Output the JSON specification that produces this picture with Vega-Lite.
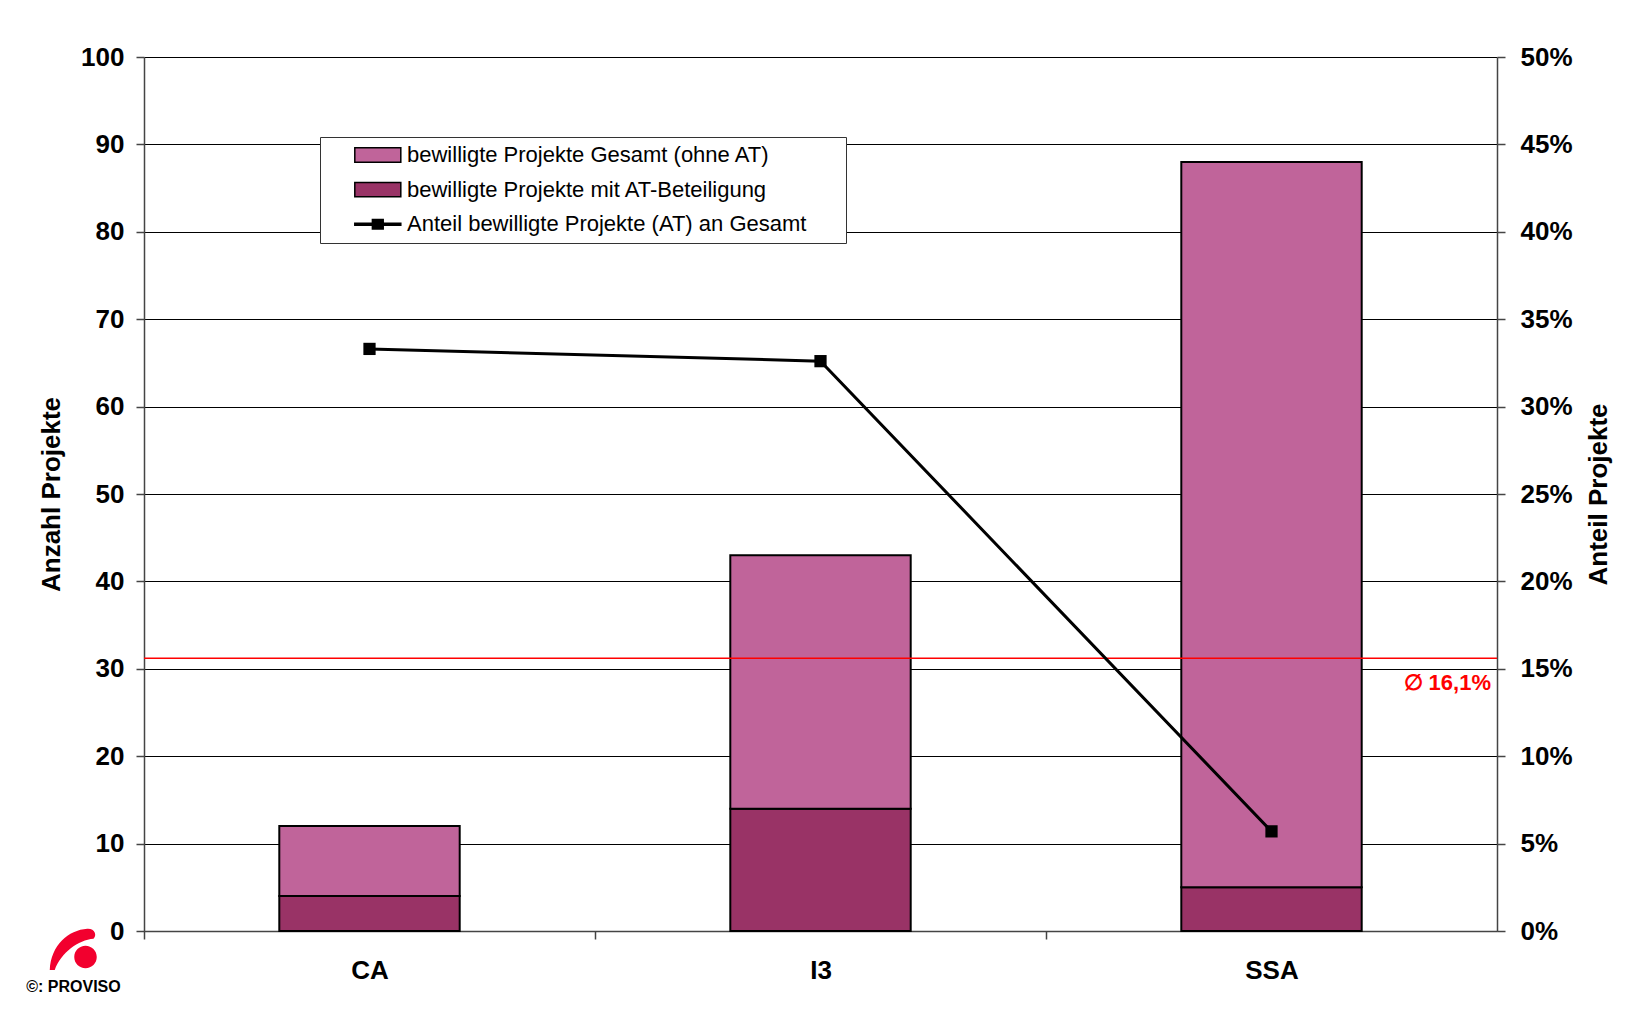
{
  "$schema": "https://vega.github.io/schema/vega-lite/v6.json",
  "width": 1353,
  "height": 874,
  "autosize": {"type": "none"},
  "padding": {"left": 144, "top": 57, "right": 148, "bottom": 87},
  "background": "white",
  "config": {
    "font": "Liberation Sans",
    "view": {"stroke": null},
    "axis": {
      "labelFont": "Liberation Sans",
      "labelFontSize": 26,
      "labelFontWeight": "bold",
      "labelColor": "black",
      "titleFont": "Liberation Sans",
      "titleFontSize": 26,
      "titleFontWeight": "bold",
      "titleColor": "black",
      "domainColor": "#444444",
      "domainWidth": 1.5,
      "tickColor": "#444444",
      "tickWidth": 1.5,
      "tickSize": 8
    },
    "legend": {
      "orient": "none",
      "legendX": 176,
      "legendY": 80,
      "padding": 7,
      "fillColor": "white",
      "strokeColor": "#333333",
      "symbolSize": 256,
      "symbolOpacity": 1,
      "symbolStrokeColor": "black",
      "symbolStrokeWidth": 1.5,
      "labelFont": "Liberation Sans",
      "labelFontSize": 22,
      "labelColor": "black",
      "labelOffset": 58,
      "labelLimit": 800,
      "rowPadding": 12.6
    }
  },
  "datasets": {
    "bars": [
      {"Programm": "CA", "series": "bewilligte Projekte mit AT-Beteiligung", "value": 4},
      {"Programm": "CA", "series": "bewilligte Projekte Gesamt (ohne AT)", "value": 8},
      {"Programm": "I3", "series": "bewilligte Projekte mit AT-Beteiligung", "value": 14},
      {"Programm": "I3", "series": "bewilligte Projekte Gesamt (ohne AT)", "value": 29},
      {"Programm": "SSA", "series": "bewilligte Projekte mit AT-Beteiligung", "value": 5},
      {"Programm": "SSA", "series": "bewilligte Projekte Gesamt (ohne AT)", "value": 83}
    ],
    "anteil": [
      {"Programm": "CA", "series": "Anteil bewilligte Projekte (AT) an Gesamt", "anteil": 0.333},
      {"Programm": "I3", "series": "Anteil bewilligte Projekte (AT) an Gesamt", "anteil": 0.326},
      {"Programm": "SSA", "series": "Anteil bewilligte Projekte (AT) an Gesamt", "anteil": 0.057}
    ],
    "avg": [{"avg": 0.156, "labelpos": 0.142, "label": "∅ 16,1%", "Programm": "SSA"}],
    "credit": [{"text": "©: PROVISO", "Programm": "CA", "ty": -6.4, "ly": -2.17}]
  },
  "encoding": {
    "x": {
      "field": "Programm",
      "type": "nominal",
      "sort": ["CA", "I3", "SSA"],
      "scale": {"paddingInner": 0.6, "paddingOuter": 0.3},
      "axis": {
        "title": null,
        "labelAngle": 0,
        "tickOffset": -225.5,
        "labelOffset": 225.5,
        "labelPadding": 18,
        "tickSize": 8
      }
    }
  },
  "layer": [
    {
      "layer": [
        {
          "data": {"name": "bars"},
          "mark": {"type": "bar", "stroke": "black", "strokeWidth": 2},
          "encoding": {
            "y": {
              "field": "value",
              "type": "quantitative",
              "stack": "zero",
              "scale": {"domain": [0, 100], "nice": false},
              "axis": {
                "title": "Anzahl Projekte",
                "values": [0, 10, 20, 30, 40, 50, 60, 70, 80, 90, 100],
                "grid": true,
                "gridColor": "black",
                "gridWidth": 1,
                "labelPadding": 12,
                "titlePadding": 16
              }
            },
            "color": {
              "field": "series",
              "type": "nominal",
              "scale": {
                "domain": ["bewilligte Projekte Gesamt (ohne AT)", "bewilligte Projekte mit AT-Beteiligung", "Anteil bewilligte Projekte (AT) an Gesamt"],
                "range": ["#c0649a", "#993366", "#000000"]
              },
              "legend": {"title": null, "labelExpr": "datum.label + '\u2800\u2800'", "encoding": {"symbols": {"stroke": {"value": "black"}, "strokeWidth": {"value": 1.5}}}}
            },
            "order": {"field": "series", "sort": "descending"}
          }
        },
        {
          "data": {"name": "credit"},
          "mark": {"type": "text", "fontSize": 16, "fontWeight": "bold", "color": "black", "align": "center", "baseline": "middle", "dx": -296},
          "encoding": {
            "y": {"field": "ty", "type": "quantitative", "scale": {"domain": [0, 100], "nice": false}},
            "text": {"field": "text"}
          }
        },
        {
          "data": {"name": "credit"},
          "mark": {
            "type": "point",
            "filled": true,
            "opacity": 1,
            "color": "#f2002e",
            "size": 2500,
            "xOffset": -296,
            "shape": "M-0.95,0.8 C-0.9,-0.2 -0.2,-0.8 0.55,-0.85 C0.85,-0.87 0.95,-0.6 0.8,-0.45 C0.2,-0.4 -0.5,0.1 -0.75,0.8 Z M0.93,0.28 A0.45,0.45 0 1,1 0.03,0.28 A0.45,0.45 0 1,1 0.93,0.28 Z"
          },
          "encoding": {
            "y": {"field": "ly", "type": "quantitative", "scale": {"domain": [0, 100], "nice": false}}
          }
        }
      ]
    },
    {
      "layer": [
        {
          "data": {"name": "avg"},
          "mark": {"type": "rule", "color": "#ff0000", "strokeWidth": 1.5},
          "encoding": {
            "x": null,
            "y": {
              "field": "avg",
              "type": "quantitative",
              "scale": {"domain": [0, 0.5], "nice": false},
              "axis": {
                "orient": "right",
                "title": "Anteil Projekte",
                "format": ".0%",
                "values": [0, 0.05, 0.1, 0.15, 0.2, 0.25, 0.3, 0.35, 0.4, 0.45, 0.5],
                "grid": false,
                "labelPadding": 15,
                "titleAngle": 270,
                "titleBaseline": "top",
                "titlePadding": 13
              }
            }
          }
        },
        {
          "data": {"name": "anteil"},
          "mark": {"type": "line", "color": "black", "strokeWidth": 3},
          "encoding": {
            "y": {"field": "anteil", "type": "quantitative", "scale": {"domain": [0, 0.5], "nice": false}}
          }
        },
        {
          "data": {"name": "anteil"},
          "mark": {"type": "point", "shape": "square", "filled": true, "color": "black", "opacity": 1, "size": 150},
          "encoding": {
            "y": {"field": "anteil", "type": "quantitative", "scale": {"domain": [0, 0.5], "nice": false}}
          }
        },
        {
          "data": {"name": "avg"},
          "mark": {"type": "text", "color": "#ff0000", "fontSize": 22, "fontWeight": "bold", "align": "right", "baseline": "middle", "dx": 219.5},
          "encoding": {
            "y": {"field": "labelpos", "type": "quantitative", "scale": {"domain": [0, 0.5], "nice": false}},
            "text": {"field": "label"}
          }
        },
        {
          "data": {"name": "anteil"},
          "mark": {"type": "point", "filled": true, "opacity": 0, "stroke": "black", "strokeWidth": 1.5},
          "encoding": {
            "x": null,
            "color": {
              "field": "series",
              "type": "nominal",
              "scale": {
                "domain": ["bewilligte Projekte Gesamt (ohne AT)", "bewilligte Projekte mit AT-Beteiligung", "Anteil bewilligte Projekte (AT) an Gesamt"],
                "range": ["#c0649a", "#993366", "#000000"]
              },
              "legend": {"title": null, "labelExpr": "datum.label + '\u2800\u2800'", "encoding": {"symbols": {"stroke": {"value": "black"}, "strokeWidth": {"value": 1.5}}}}
            },
            "shape": {
              "field": "series",
              "type": "nominal",
              "scale": {
                "domain": ["bewilligte Projekte Gesamt (ohne AT)", "bewilligte Projekte mit AT-Beteiligung", "Anteil bewilligte Projekte (AT) an Gesamt"],
                "range": ["M2.1,-0.9H7.85V0.9H2.1Z", "M2.1,-0.9H7.85V0.9H2.1Z", "M2.1,-0.12H7.85V0.12H2.1Z M4.3,-0.6H5.65V0.6H4.3Z"]
              },
              "legend": {"title": null, "labelExpr": "datum.label + '\u2800\u2800'", "encoding": {"symbols": {"stroke": {"value": "black"}, "strokeWidth": {"value": 1.5}}}}
            }
          }
        }
      ]
    }
  ],
  "resolve": {"scale": {"y": "independent"}}
}
